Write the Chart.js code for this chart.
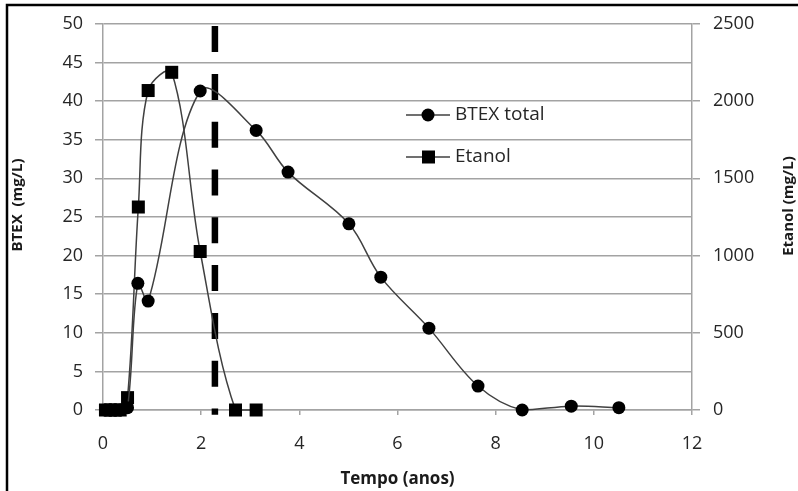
<!DOCTYPE html>
<html><head><meta charset="utf-8">
<script src="https://cdn.jsdelivr.net/npm/chart.js@4/dist/chart.umd.min.js"></script>
<style>html,body{margin:0;padding:0;background:#fff}#wrap{width:798px;height:491px;position:relative}</style>
</head><body><div id="wrap"><canvas id="c" width="798" height="491"></canvas></div>
<script>
// ---- data ----
const btexTime   = [0.05, 0.15, 0.25, 0.35, 0.5, 0.71, 0.92, 1.98, 3.12, 3.77, 5.01, 5.66, 6.64, 7.64, 8.54, 9.54, 10.51];
const btexValues = [0, 0, 0, 0, 0.3, 16.4, 14.1, 41.3, 36.2, 30.8, 24.1, 17.2, 10.6, 3.1, 0, 0.5, 0.3];
const etanolTime   = [0.05, 0.15, 0.25, 0.35, 0.5, 0.72, 0.92, 1.40, 1.98, 2.70, 3.12];
const etanolValues = [0, 0, 0, 0, 80, 1314, 2068, 2186, 1026, 0, 0];
const limitTime   = [2.28, 2.28];
const limitValues = [49.7, -0.6];
const seriesNames = ['BTEX total', 'Etanol'];
const xTitle = 'Tempo (anos)';
const yTitle = 'BTEX  (mg/L)';
const y1Title = 'Etanol (mg/L)';

const pts = (xs, ys) => xs.map((x, i) => ({x, y: ys[i]}));
const FONT = 'Open Sans';
const GRID = '#a3a3a3';
const TXT = '#262626';

const overlay = {
  id: 'overlay',
  afterDraw(chart) {
    const ctx = chart.ctx;
    ctx.save();
    // frame
    ctx.strokeStyle = '#000'; ctx.lineWidth = 2.5;
    ctx.beginPath(); ctx.moveTo(7, 491); ctx.lineTo(7, 5); ctx.lineTo(798, 5); ctx.stroke();
    // vertical axis titles (both read bottom-to-top)
    ctx.fillStyle = '#1a1a1a';
    ctx.font = 'bold 15px "' + FONT + '"';
    ctx.textAlign = 'center'; ctx.textBaseline = 'middle';
    [[18, 205, yTitle], [789, 206, y1Title]].forEach(([x, y, t]) => {
      ctx.save(); ctx.translate(x, y); ctx.rotate(-Math.PI / 2); ctx.fillText(t, 0, 0); ctx.restore();
    });
    ctx.restore();
    // legend
    ctx.save();
    const items = [{y: 115, style: 'circle'}, {y: 157, style: 'rect'}];
    items.forEach((it, i) => {
      ctx.strokeStyle = '#404040'; ctx.lineWidth = 1.5;
      ctx.beginPath(); ctx.moveTo(406, it.y); ctx.lineTo(450, it.y); ctx.stroke();
      ctx.fillStyle = '#000';
      if (it.style === 'circle') { ctx.beginPath(); ctx.arc(428, it.y, 6.5, 0, Math.PI * 2); ctx.fill(); }
      else { ctx.fillRect(422, it.y - 6.5, 13, 13); }
      ctx.fillStyle = TXT;
      ctx.font = '19px "' + FONT + '"';
      ctx.textAlign = 'left'; ctx.textBaseline = 'middle';
      ctx.fillText(seriesNames[i], 455, it.y);
    });
    ctx.restore();
  }
};

new Chart(document.getElementById('c'), {
  type: 'line',
  data: {
    datasets: [
      {label: seriesNames[0], data: pts(btexTime, btexValues), yAxisID: 'y', borderColor: '#404040', borderWidth: 1.5,
       pointStyle: 'circle', pointRadius: 6.5, pointBackgroundColor: '#000', pointBorderColor: '#000', pointBorderWidth: 0,
       tension: 0.35, clip: false},
      {label: seriesNames[1], data: pts(etanolTime, etanolValues), yAxisID: 'y1', borderColor: '#404040', borderWidth: 1.5,
       pointStyle: 'rect', pointRadius: 9.2, pointBackgroundColor: '#000', pointBorderColor: '#000', pointBorderWidth: 0,
       tension: 0.35, clip: false},
      {label: 'limite', data: pts(limitTime, limitValues), yAxisID: 'y', borderColor: '#000', borderWidth: 6.5,
       borderDash: [26, 21.8], borderCapStyle: 'butt', pointRadius: 0, tension: 0, clip: false}
    ]
  },
  options: {
    responsive: false, animation: false, devicePixelRatio: 1,
    layout: {padding: {top: 20, left: 0, right: 0, bottom: 0}},
    plugins: {legend: {display: false}, tooltip: {enabled: false}},
    scales: {
      x: {type: 'linear', min: 0, max: 12,
          ticks: {stepSize: 2, color: TXT, font: {family: FONT, size: 18}, padding: 18, maxRotation: 0,
                  callback: v => String(v)},
          grid: {drawOnChartArea: false, color: GRID, lineWidth: 1.5, tickLength: 5},
          border: {display: true, color: GRID, width: 1.5},
          title: {display: true, text: xTitle, color: '#1a1a1a', font: {family: FONT, size: 17, weight: 'bold'}, padding: {top: 0, bottom: 2}},
          afterFit(s) { s.height = 81; }},
      y: {position: 'left', min: 0, max: 50,
          ticks: {stepSize: 5, color: TXT, font: {family: FONT, size: 18}, padding: 12, callback: v => String(v)},
          grid: {color: GRID, lineWidth: 1.5, tickLength: 8},
          border: {display: true, color: GRID, width: 1.5},
          afterFit(s) { s.width = 103; }},
      y1: {position: 'right', min: 0, max: 2500,
          ticks: {stepSize: 500, color: TXT, font: {family: FONT, size: 18}, padding: 13, callback: v => String(v)},
          grid: {drawOnChartArea: false, color: GRID, lineWidth: 1.5, tickLength: 8},
          border: {display: true, color: GRID, width: 1.5},
          afterFit(s) { s.width = 106; }}
    }
  },
  plugins: [overlay]
});
</script></body></html>
